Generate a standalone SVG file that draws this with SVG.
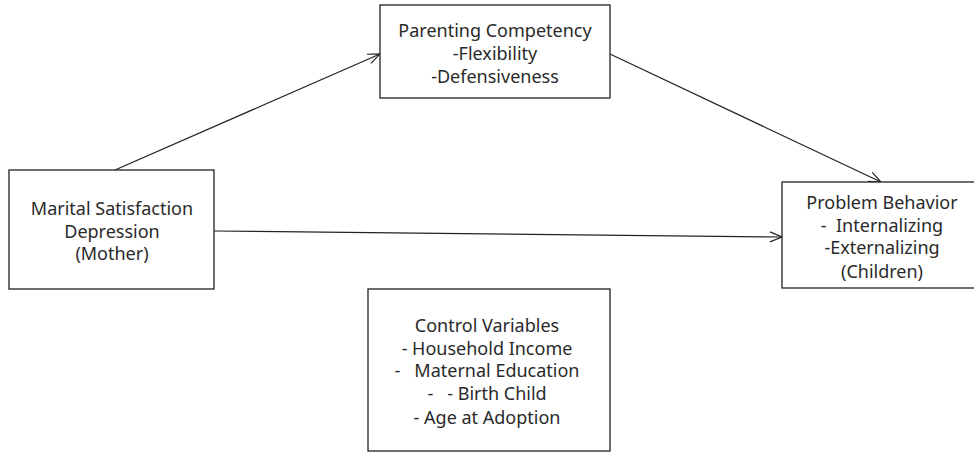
<svg xmlns="http://www.w3.org/2000/svg" width="974" height="452" viewBox="0 0 974 452">
<style>
.box{fill:#fff;stroke:#222;stroke-width:1.3}
.t{font-family:"Noto Sans","Open Sans",sans-serif;font-size:18px;fill:#2a2a2a;text-anchor:middle;dominant-baseline:central}
.c{stroke:#222;stroke-width:1.2;fill:none}
</style>
<defs>
<marker id="ah" markerWidth="14" markerHeight="12" refX="13" refY="6" orient="auto" markerUnits="userSpaceOnUse">
<path d="M1,1 L13,6 L1,11" fill="none" stroke="#222" stroke-width="1.2"/>
</marker>
</defs>
<rect width="974" height="452" fill="#fff"/>
<g id="connectors">
<line class="c" x1="115" y1="170" x2="380" y2="54" marker-end="url(#ah)"/>
<line class="c" x1="610" y1="54" x2="881" y2="182" marker-end="url(#ah)"/>
<line class="c" x1="214" y1="231" x2="782" y2="237" marker-end="url(#ah)"/>
</g>
<g id="parenting">
<rect class="box" x="380" y="5" width="230" height="93"/>
<text class="t" x="495" y="30">Parenting Competency</text>
<text class="t" x="495" y="53">-Flexibility</text>
<text class="t" x="495" y="76">-Defensiveness</text>
</g>
<g id="marital">
<rect class="box" x="9" y="170" width="205" height="119"/>
<text class="t" x="112" y="208">Marital Satisfaction</text>
<text class="t" x="112" y="231">Depression</text>
<text class="t" x="112" y="253">(Mother)</text>
</g>
<g id="problem">
<rect class="box" x="782" y="182" width="195" height="106"/>
<text class="t" x="882" y="202">Problem Behavior</text>
<text class="t" x="882" y="225" xml:space="preserve">-  Internalizing</text>
<text class="t" x="882" y="247">-Externalizing</text>
<text class="t" x="882" y="271">(Children)</text>
</g>
<g id="control">
<rect class="box" x="368" y="289" width="242" height="162"/>
<text class="t" x="487" y="325">Control Variables</text>
<text class="t" x="487" y="348">- Household Income</text>
<text class="t" x="487" y="370" xml:space="preserve">-   Maternal Education</text>
<text class="t" x="487" y="393" xml:space="preserve">-   - Birth Child</text>
<text class="t" x="487" y="417">- Age at Adoption</text>
</g>
</svg>
